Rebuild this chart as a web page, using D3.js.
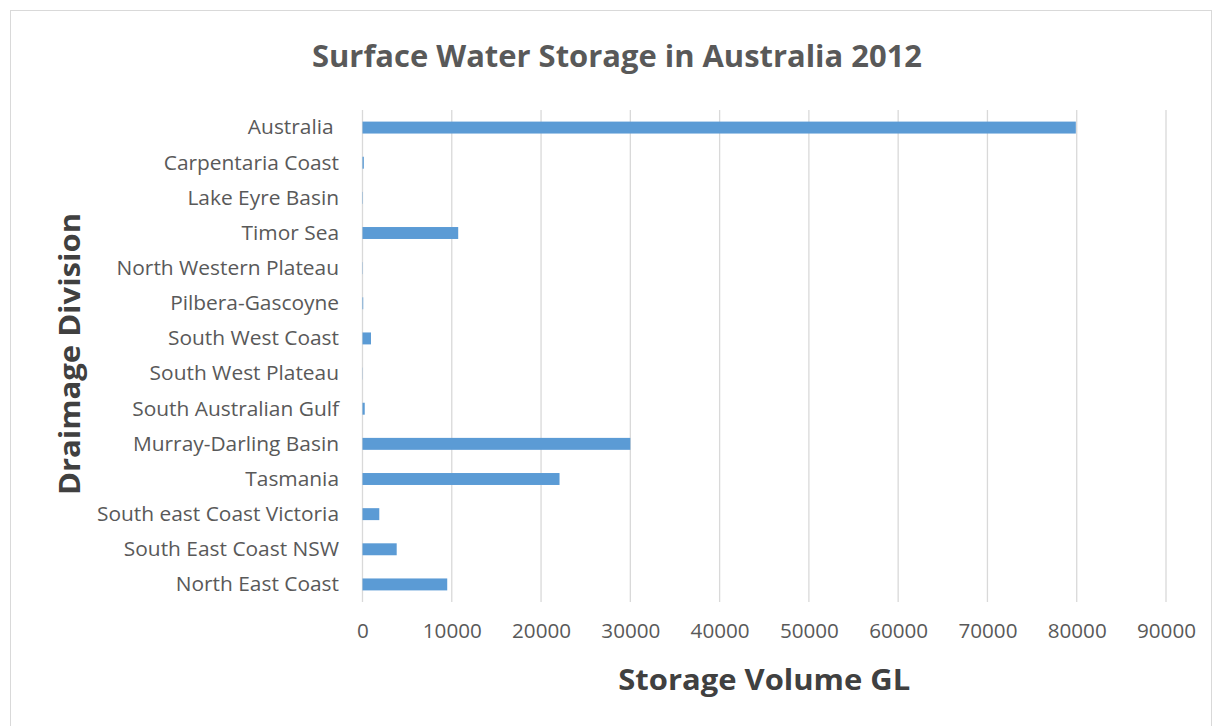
<!DOCTYPE html>
<html>
<head>
<meta charset="utf-8">
<script src="https://cdn.jsdelivr.net/npm/d3@7"></script>
<style>
  html, body { margin: 0; padding: 0; background: #fff; }
  svg { display: block; }
  text { font-family: "Open Sans", "Noto Sans", sans-serif; }
</style>
</head>
<body>
<svg id="chart" width="1215" height="726"></svg>
<script>
// Drainage divisions, listed top to bottom
const divisions = [
  "Australia ",
  "Carpentaria Coast",
  "Lake Eyre Basin",
  "Timor Sea",
  "North Western Plateau",
  "Pilbera-Gascoyne",
  "South West Coast",
  "South West Plateau",
  "South Australian Gulf",
  "Murray-Darling Basin",
  "Tasmania",
  "South east Coast Victoria",
  "South East Coast NSW",
  "North East Coast"
];
// Surface water storage volume, GL
const storageGL = [79900, 150, 40, 10720, 30, 80, 950, 20, 250, 30000, 22070, 1880, 3830, 9490];
const xTicks = [0, 10000, 20000, 30000, 40000, 50000, 60000, 70000, 80000, 90000];

const chartTitle = "Surface Water Storage in Australia 2012";
const xTitle = "Storage Volume GL";
const yTitle = "Draimage Division";

const svg = d3.select("#chart");
const plot = { left: 362.5, right: 1166, top: 110, bottom: 602 };

// Chart frame
svg.append("rect")
  .attr("x", 10.5).attr("y", 10.5)
  .attr("width", 1201).attr("height", 730)
  .attr("fill", "#fff").attr("stroke", "#d9d9d9").attr("stroke-width", 1);

const x = d3.scaleLinear().domain([0, 90000]).range([plot.left, plot.right]);
const y = d3.scaleBand().domain(divisions).range([plot.top, plot.bottom])
  .paddingInner(0.66).paddingOuter(0.33);

// Condense a text run by a width factor
function condense(sel, factor) {
  sel.each(function () {
    const w = this.getComputedTextLength();
    d3.select(this).attr("textLength", w * factor).attr("lengthAdjust", "spacingAndGlyphs");
  });
}

// Vertical gridlines
svg.append("g").selectAll("line").data(xTicks).join("line")
  .attr("x1", d => x(d)).attr("x2", d => x(d))
  .attr("y1", plot.top).attr("y2", plot.bottom)
  .attr("stroke", "#d9d9d9").attr("stroke-width", 1.3);

// Bars
svg.append("g").selectAll("rect").data(divisions).join("rect")
  .attr("x", x(0))
  .attr("y", d => y(d))
  .attr("width", (d, i) => x(storageGL[i]) - x(0))
  .attr("height", y.bandwidth())
  .attr("fill", "#5b9bd5");

// X tick labels
const xAxis = d3.axisBottom(x).tickValues(xTicks).tickSize(0).tickPadding(0)
  .tickFormat(d3.format("d"));
const gx = svg.append("g").attr("transform", `translate(0, ${plot.bottom})`).call(xAxis);
gx.select(".domain").remove();
gx.selectAll("text")
  .attr("dy", 0).attr("y", 36)
  .attr("font-size", 19.5).attr("fill", "#595959")
  .style("font-family", '"Open Sans", sans-serif');
{
  const probe = gx.selectAll("text").filter(d => d === 10000).node();
  const f = 59 / probe.getComputedTextLength();
  condense(gx.selectAll("text"), f);
}

// Category labels
const yAxis = d3.axisLeft(y).tickSize(0).tickPadding(0);
const gy = svg.append("g").attr("transform", `translate(${plot.left}, 0)`).call(yAxis);
gy.select(".domain").remove();
gy.selectAll("text")
  .attr("x", -23.5).attr("dy", "0.35em")
  .attr("font-size", 19.5).attr("fill", "#595959")
  .style("white-space", "pre")
  .style("font-family", '"Open Sans", sans-serif');
{
  const probe = gy.selectAll("text").filter(d => d === "South east Coast Victoria").node();
  const f = 242 / probe.getComputedTextLength();
  condense(gy.selectAll("text"), f);
}

// Chart title
svg.append("text")
  .attr("x", 617).attr("y", 67)
  .attr("text-anchor", "middle")
  .attr("font-size", 31).attr("font-weight", 700).attr("fill", "#595959")
  .attr("textLength", 610).attr("lengthAdjust", "spacingAndGlyphs")
  .text(chartTitle);

// X axis title
svg.append("text")
  .attr("x", (plot.left + plot.right) / 2).attr("y", 690)
  .attr("text-anchor", "middle")
  .attr("font-size", 28).attr("font-weight", 700).attr("fill", "#404040")
  .attr("textLength", 292).attr("lengthAdjust", "spacingAndGlyphs")
  .text(xTitle);

// Y axis title
svg.append("text")
  .attr("transform", `translate(80, ${(plot.top + plot.bottom) / 2 - 2}) rotate(-90)`)
  .attr("text-anchor", "middle")
  .attr("font-size", 28).attr("font-weight", 700).attr("fill", "#404040")
  .attr("textLength", 282).attr("lengthAdjust", "spacingAndGlyphs")
  .text(yTitle);
</script>
</body>
</html>
